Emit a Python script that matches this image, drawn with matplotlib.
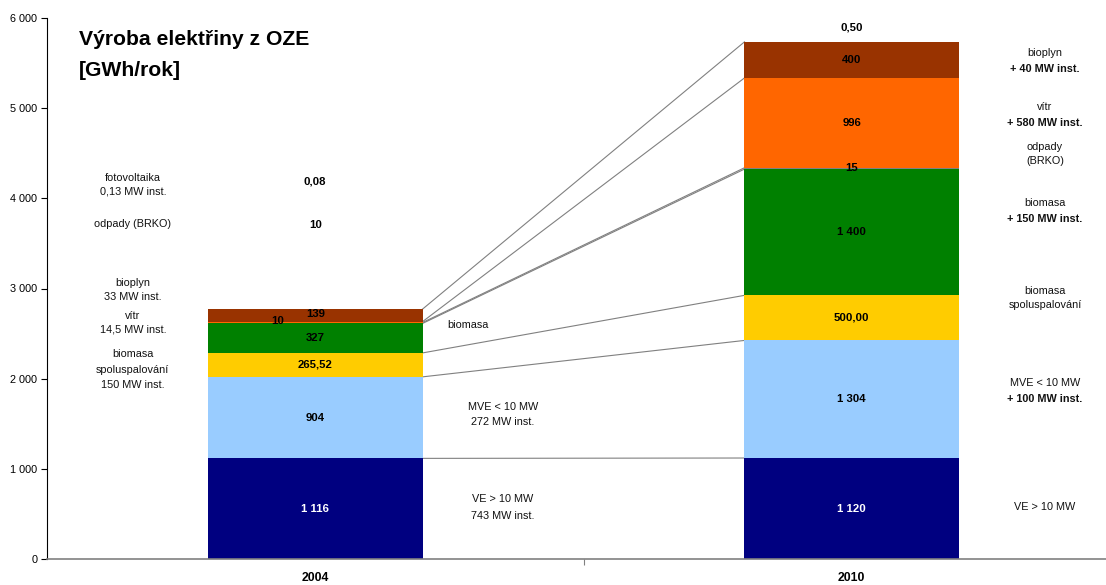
import matplotlib
matplotlib.use("Agg")
import matplotlib.pyplot as plt
import numpy as np

plt.rcParams["font.family"] = ["Liberation Sans", "DejaVu Sans"]

years = ["2004", "2010"]
sources = ["VE > 10 MW", "MVE < 10 MW", "biomasa spoluspalování", "biomasa",
           "odpady (BRKO)", "vítr", "bioplyn", "fotovoltaika"]
values_2004 = [1116, 904, 265.52, 327, 10, 10, 139, 0.08]
values_2010 = [1120, 1304, 500.00, 1400, 15, 996, 400, 0.50]
labels_2004 = ["1 116", "904", "265,52", "327", "10", "10", "139", "0,08"]
labels_2010 = ["1 120", "1 304", "500,00", "1 400", "15", "996", "400", "0,50"]
colors = ["#000080", "#99CCFF", "#FFCC00", "#008000", "#808080", "#FF6600", "#993300", "#FFFF99"]

fig = plt.figure(figsize=(11.06, 5.85), dpi=100)
ax = fig.add_axes([47 / 1106, 26 / 585, 1073 / 1106, 541 / 585])

width = 0.40
x = np.arange(len(years))
data = np.array([values_2004, values_2010])
bottoms = np.zeros(len(years))
for i, src in enumerate(sources):
    ax.bar(x, data[:, i], width, bottom=bottoms, color=colors[i], linewidth=0, zorder=2)
    bottoms += data[:, i]

# connecting lines between the bars (segment tops, except fotovoltaika)
cum = np.cumsum(data, axis=1)
for k in range(len(sources) - 1):
    ax.plot([x[0] + width / 2, x[1] - width / 2], [cum[0, k], cum[1, k]],
            color="#808080", lw=0.8, zorder=1)

# value labels inside segments
starts = cum - data
fs = 7.8
bfs = 8.2
for j, labs in enumerate([labels_2004, labels_2010]):
    for i, lab in enumerate(labs):
        mid = starts[j, i] + data[j, i] / 2
        xx = x[j]
        col = "white" if i == 0 else "black"
        if j == 0 and i == 4:      # odpady 2004 shown above
            mid = 3700
        elif j == 0 and i == 5:    # vítr 2004
            xx, mid = x[j] - 0.07, 2640
        elif i == 7:               # fotovoltaika
            mid = 4190 if j == 0 else 5900
        elif j == 0 and i == 6:
            mid = 2720
        elif j == 1 and i == 4:
            mid = 4335
        ax.text(xx, mid, lab, ha="center", va="center", fontsize=bfs,
                fontweight="bold", color=col, zorder=3)

# left side descriptions (2004)
lx = -0.34
left_notes = [(4230, "fotovoltaika"), (4075, "0,13 MW inst."), (3720, "odpady (BRKO)"),
              (3065, "bioplyn"), (2905, "33 MW inst."), (2700, "vítr"), (2545, "14,5 MW inst."),
              (2270, "biomasa"), (2100, "spoluspalování"), (1925, "150 MW inst.")]
for yy, t in left_notes:
    ax.text(lx, yy, t, ha="center", va="center", fontsize=fs, color="#111111")

# middle descriptions
ax.text(0.285, 2590, "biomasa", ha="center", va="center", fontsize=fs, color="#111111")
mid_notes = [(1690, "MVE < 10 MW"), (1520, "272 MW inst."), (660, "VE > 10 MW"), (480, "743 MW inst.")]
for yy, t in mid_notes:
    ax.text(0.35, yy, t, ha="center", va="center", fontsize=fs, color="#111111")

# right side descriptions (2010)
rx = 1.36
right_notes = [(5610, "bioplyn", "normal"), (5435, "+ 40 MW inst.", "bold"),
               (5010, "vítr", "normal"), (4835, "+ 580 MW inst.", "bold"),
               (4565, "odpady", "normal"), (4410, "(BRKO)", "normal"),
               (3950, "biomasa", "normal"), (3775, "+ 150 MW inst.", "bold"),
               (2975, "biomasa", "normal"), (2820, "spoluspalování", "normal"),
               (1955, "MVE < 10 MW", "normal"), (1780, "+ 100 MW inst.", "bold"),
               (575, "VE > 10 MW", "normal")]
for yy, t, w in right_notes:
    ax.text(rx, yy, t, ha="center", va="center", fontsize=fs, fontweight=w, color="#111111")

# title
ax.text(-0.44, 5590, "Výroba elektřiny z OZE\n[GWh/rok]", ha="left", va="center",
        fontsize=15.2, fontweight="bold", linespacing=1.75)

ax.set_xlim(-0.5, 1.5)
ax.set_ylim(0, 6000)
ax.set_yticks(np.arange(0, 6001, 1000))
ax.set_yticklabels([f"{v:,}".replace(",", " ") for v in range(0, 6001, 1000)], fontsize=7.8)
ax.tick_params(axis="y", length=4, width=0.8, pad=3)
ax.set_xticks([0.5])
ax.set_xticklabels([""])
ax.tick_params(axis="x", length=4, width=0.8, color="#808080")
for xi, yr in zip(x, years):
    ax.text(xi, -210, yr, ha="center", va="center", fontsize=8.8, fontweight="bold")
ax.spines["top"].set_visible(False)
ax.spines["right"].set_visible(False)
ax.spines["bottom"].set_color("#808080")
ax.spines["bottom"].set_linewidth(1.2)
ax.spines["left"].set_linewidth(0.8)

fig.savefig("out.png", dpi=100)
